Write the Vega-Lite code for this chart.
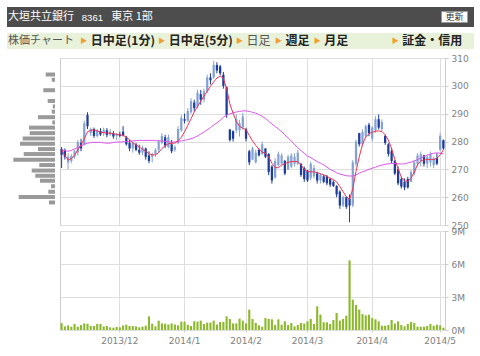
{
  "$schema": "https://vega.github.io/schema/vega-lite/v6.json",
  "background": "white",
  "padding": {"left": 7, "top": 7, "right": 0, "bottom": 0},
  "spacing": 4,
  "config": {
    "font": "DejaVu Sans",
    "view": {"stroke": "#cccccc"},
    "axis": {"labelFont": "DejaVu Sans", "labelFontSize": 9, "labelColor": "#808080", "gridColor": "#dedede", "domainColor": "#cccccc", "tickColor": "#cccccc", "title": null, "labelOverlap": false},
    "text": {"font": "Noto Sans CJK JP"}
  },
  "datasets": {
    "header": [
      {"item": "大垣共立銀行", "kind": "name"},
      {"item": "8361", "kind": "code"},
      {"item": "東京 1部", "kind": "market"},
      {"item": "更新", "kind": "button"}
    ],
    "tabs": [
      {"tab": "株価チャート", "kind": "title"},
      {"tab": "日中足(1分)", "kind": "link"},
      {"tab": "日中足(5分)", "kind": "link"},
      {"tab": "日足", "kind": "current"},
      {"tab": "週足", "kind": "link"},
      {"tab": "月足", "kind": "link"},
      {"tab": "証金・信用", "kind": "link"}
    ],
    "profile": [
      {"price": 305.6, "volume": 2230000},
      {"price": 303.6, "volume": 790000},
      {"price": 299.6, "volume": 2810000},
      {"price": 295.5, "volume": 1750000},
      {"price": 293.4, "volume": 550000},
      {"price": 291.4, "volume": 790000},
      {"price": 289.3, "volume": 4080000},
      {"price": 287.3, "volume": 650000},
      {"price": 285.3, "volume": 6240000},
      {"price": 283.2, "volume": 6070000},
      {"price": 281.1, "volume": 7750000},
      {"price": 279.1, "volume": 8400000},
      {"price": 277.1, "volume": 4080000},
      {"price": 275.2, "volume": 7510000},
      {"price": 273.0, "volume": 10000000},
      {"price": 271.0, "volume": 3770000},
      {"price": 268.9, "volume": 5590000},
      {"price": 266.9, "volume": 4730000},
      {"price": 265.0, "volume": 3600000},
      {"price": 262.9, "volume": 960000},
      {"price": 260.8, "volume": 1610000},
      {"price": 258.8, "volume": 8710000},
      {"price": 256.7, "volume": 1440000}
    ],
    "ohlc": [
      {"date": "2013-11-06", "open": 277.3, "high": 278, "low": 270.5, "close": 275.2, "volume": 630000, "ma_short": 277.0, "ma_long": 277.0},
      {"date": "2013-11-07", "open": 276.8, "high": 277.5, "low": 273.5, "close": 274.5, "volume": 330000, "ma_short": 275.0, "ma_long": 276.7},
      {"date": "2013-11-08", "open": 272.5, "high": 275.8, "low": 270, "close": 274.5, "volume": 420000, "ma_short": 273.4, "ma_long": 276.5},
      {"date": "2013-11-11", "open": 273, "high": 275.5, "low": 272.2, "close": 274.8, "volume": 300000, "ma_short": 273.8, "ma_long": 276.8},
      {"date": "2013-11-12", "open": 274.5, "high": 277, "low": 273.8, "close": 276.5, "volume": 550000, "ma_short": 275.0, "ma_long": 277.3},
      {"date": "2013-11-13", "open": 276, "high": 280.5, "low": 275, "close": 279.8, "volume": 300000, "ma_short": 277.0, "ma_long": 277.8},
      {"date": "2013-11-14", "open": 279.5, "high": 281, "low": 276.5, "close": 277.5, "volume": 450000, "ma_short": 278.8, "ma_long": 278.4},
      {"date": "2013-11-15", "open": 279, "high": 287.5, "low": 278.5, "close": 286.5, "volume": 600000, "ma_short": 281.0, "ma_long": 279.0},
      {"date": "2013-11-18", "open": 289.5, "high": 290.5, "low": 284.5, "close": 285.5, "volume": 570000, "ma_short": 283.5, "ma_long": 279.4},
      {"date": "2013-11-19", "open": 283, "high": 285, "low": 282, "close": 284.5, "volume": 360000, "ma_short": 284.0, "ma_long": 279.6},
      {"date": "2013-11-20", "open": 284.5, "high": 285, "low": 281.3, "close": 282, "volume": 360000, "ma_short": 284.2, "ma_long": 279.7},
      {"date": "2013-11-21", "open": 282, "high": 284.5, "low": 281.5, "close": 284, "volume": 550000, "ma_short": 283.8, "ma_long": 279.7},
      {"date": "2013-11-22", "open": 283.8, "high": 284.8, "low": 282, "close": 282.5, "volume": 550000, "ma_short": 283.3, "ma_long": 279.7},
      {"date": "2013-11-25", "open": 283, "high": 285, "low": 282, "close": 284.2, "volume": 330000, "ma_short": 283.2, "ma_long": 279.5},
      {"date": "2013-11-26", "open": 284, "high": 284.8, "low": 281.5, "close": 282.3, "volume": 360000, "ma_short": 283.0, "ma_long": 279.4},
      {"date": "2013-11-27", "open": 282.5, "high": 284.5, "low": 282, "close": 283.5, "volume": 240000, "ma_short": 283.0, "ma_long": 279.4},
      {"date": "2013-11-28", "open": 283, "high": 283.8, "low": 281, "close": 281.8, "volume": 210000, "ma_short": 282.8, "ma_long": 279.7},
      {"date": "2013-11-29", "open": 282, "high": 283, "low": 280.5, "close": 282.5, "volume": 270000, "ma_short": 282.6, "ma_long": 279.8},
      {"date": "2013-12-02", "open": 282.5, "high": 283.5, "low": 281.5, "close": 282, "volume": 240000, "ma_short": 282.4, "ma_long": 279.8},
      {"date": "2013-12-03", "open": 283.5, "high": 285.5, "low": 281.8, "close": 282.2, "volume": 420000, "ma_short": 282.2, "ma_long": 279.9},
      {"date": "2013-12-04", "open": 281.5, "high": 282, "low": 278.5, "close": 279, "volume": 480000, "ma_short": 281.6, "ma_long": 280.0},
      {"date": "2013-12-05", "open": 279.5, "high": 280.6, "low": 276.5, "close": 277.5, "volume": 360000, "ma_short": 280.6, "ma_long": 280.1},
      {"date": "2013-12-06", "open": 277.5, "high": 280, "low": 276, "close": 279.5, "volume": 360000, "ma_short": 279.5, "ma_long": 280.2},
      {"date": "2013-12-09", "open": 279, "high": 279.5, "low": 276.5, "close": 277, "volume": 330000, "ma_short": 278.8, "ma_long": 280.3},
      {"date": "2013-12-10", "open": 277, "high": 278.8, "low": 275.2, "close": 276, "volume": 240000, "ma_short": 278.0, "ma_long": 280.4},
      {"date": "2013-12-11", "open": 276, "high": 278.5, "low": 275, "close": 277.8, "volume": 300000, "ma_short": 277.2, "ma_long": 280.4},
      {"date": "2013-12-12", "open": 277.5, "high": 277.8, "low": 273.5, "close": 274.5, "volume": 390000, "ma_short": 276.5, "ma_long": 280.4},
      {"date": "2013-12-13", "open": 275, "high": 276.5, "low": 272.2, "close": 273, "volume": 1240000, "ma_short": 275.6, "ma_long": 280.4},
      {"date": "2013-12-16", "open": 274.5, "high": 276, "low": 272.5, "close": 275.5, "volume": 570000, "ma_short": 275.2, "ma_long": 280.4},
      {"date": "2013-12-17", "open": 275.5, "high": 277.6, "low": 274.5, "close": 277, "volume": 330000, "ma_short": 275.2, "ma_long": 280.3},
      {"date": "2013-12-18", "open": 277, "high": 280.5, "low": 276, "close": 280, "volume": 850000, "ma_short": 276.0, "ma_long": 280.3},
      {"date": "2013-12-19", "open": 279.5, "high": 283, "low": 279, "close": 282, "volume": 600000, "ma_short": 277.5, "ma_long": 280.2},
      {"date": "2013-12-20", "open": 281.5, "high": 282.4, "low": 277.6, "close": 278.5, "volume": 570000, "ma_short": 278.5, "ma_long": 280.0},
      {"date": "2013-12-24", "open": 278, "high": 282.5, "low": 277.5, "close": 281.5, "volume": 500000, "ma_short": 279.2, "ma_long": 279.9},
      {"date": "2013-12-25", "open": 279, "high": 280.6, "low": 275.8, "close": 276.5, "volume": 600000, "ma_short": 279.4, "ma_long": 279.8},
      {"date": "2013-12-26", "open": 277, "high": 278.7, "low": 276.3, "close": 278, "volume": 500000, "ma_short": 279.4, "ma_long": 279.8},
      {"date": "2013-12-27", "open": 279.4, "high": 285.5, "low": 279, "close": 284.5, "volume": 420000, "ma_short": 280.2, "ma_long": 280.0},
      {"date": "2013-12-30", "open": 284, "high": 289.5, "low": 283.5, "close": 288.5, "volume": 760000, "ma_short": 281.5, "ma_long": 280.2},
      {"date": "2014-01-06", "open": 288, "high": 290, "low": 286.5, "close": 287.5, "volume": 760000, "ma_short": 283.5, "ma_long": 280.4},
      {"date": "2014-01-07", "open": 287.5, "high": 292, "low": 287, "close": 291, "volume": 480000, "ma_short": 285.8, "ma_long": 280.7},
      {"date": "2014-01-08", "open": 290.5, "high": 295.6, "low": 290, "close": 294.5, "volume": 360000, "ma_short": 288.2, "ma_long": 281.0},
      {"date": "2014-01-09", "open": 294, "high": 295, "low": 290.8, "close": 292, "volume": 800000, "ma_short": 290.6, "ma_long": 281.4},
      {"date": "2014-01-10", "open": 292.5, "high": 298.6, "low": 292, "close": 297.5, "volume": 760000, "ma_short": 292.6, "ma_long": 282.0},
      {"date": "2014-01-14", "open": 297, "high": 298.5, "low": 293.2, "close": 295, "volume": 850000, "ma_short": 294.5, "ma_long": 282.7},
      {"date": "2014-01-15", "open": 295, "high": 299, "low": 294, "close": 298, "volume": 550000, "ma_short": 296.3, "ma_long": 283.4},
      {"date": "2014-01-16", "open": 298, "high": 304, "low": 297.5, "close": 303, "volume": 670000, "ma_short": 298.0, "ma_long": 284.2},
      {"date": "2014-01-17", "open": 303, "high": 304.5, "low": 300.5, "close": 302, "volume": 670000, "ma_short": 299.8, "ma_long": 285.0},
      {"date": "2014-01-20", "open": 303, "high": 309, "low": 302.5, "close": 307.5, "volume": 850000, "ma_short": 301.4, "ma_long": 285.9},
      {"date": "2014-01-21", "open": 307.5, "high": 308.5, "low": 304.5, "close": 305.5, "volume": 500000, "ma_short": 302.8, "ma_long": 286.7},
      {"date": "2014-01-22", "open": 307, "high": 307.5, "low": 303.8, "close": 304.5, "volume": 730000, "ma_short": 303.5, "ma_long": 287.6},
      {"date": "2014-01-23", "open": 304, "high": 305, "low": 299, "close": 300, "volume": 730000, "ma_short": 302.8, "ma_long": 288.7},
      {"date": "2014-01-24", "open": 299.5, "high": 299.8, "low": 288.5, "close": 289.5, "volume": 1240000, "ma_short": 299.0, "ma_long": 289.5},
      {"date": "2014-01-27", "open": 284.3, "high": 284.5, "low": 280, "close": 280.5, "volume": 1000000, "ma_short": 293.5, "ma_long": 289.9},
      {"date": "2014-01-28", "open": 283.7, "high": 284, "low": 280, "close": 281, "volume": 600000, "ma_short": 290.2, "ma_long": 290.3},
      {"date": "2014-01-29", "open": 284, "high": 289.7, "low": 283.1, "close": 288, "volume": 600000, "ma_short": 287.2, "ma_long": 290.6},
      {"date": "2014-01-30", "open": 284, "high": 287.8, "low": 281.8, "close": 286.5, "volume": 1030000, "ma_short": 285.5, "ma_long": 290.8},
      {"date": "2014-01-31", "open": 285, "high": 290.3, "low": 284.3, "close": 289, "volume": 850000, "ma_short": 284.7, "ma_long": 291.0},
      {"date": "2014-02-03", "open": 284.5, "high": 284.9, "low": 280, "close": 281, "volume": 600000, "ma_short": 284.3, "ma_long": 291.0},
      {"date": "2014-02-04", "open": 276.5, "high": 277, "low": 271.5, "close": 272.5, "volume": 1850000, "ma_short": 282.2, "ma_long": 290.8},
      {"date": "2014-02-05", "open": 273.5, "high": 278.1, "low": 273.3, "close": 277.5, "volume": 1000000, "ma_short": 280.2, "ma_long": 290.5},
      {"date": "2014-02-06", "open": 272.5, "high": 277, "low": 272.1, "close": 276, "volume": 640000, "ma_short": 278.6, "ma_long": 290.2},
      {"date": "2014-02-07", "open": 277, "high": 277.6, "low": 274.6, "close": 275, "volume": 420000, "ma_short": 277.2, "ma_long": 289.7},
      {"date": "2014-02-10", "open": 275.5, "high": 280, "low": 275.2, "close": 279, "volume": 300000, "ma_short": 276.2, "ma_long": 289.0},
      {"date": "2014-02-12", "open": 277.5, "high": 277.6, "low": 274, "close": 274.5, "volume": 1090000, "ma_short": 275.8, "ma_long": 288.3},
      {"date": "2014-02-13", "open": 275.5, "high": 275.8, "low": 267.9, "close": 269, "volume": 1000000, "ma_short": 274.5, "ma_long": 287.3},
      {"date": "2014-02-14", "open": 271, "high": 271.5, "low": 264.9, "close": 266, "volume": 970000, "ma_short": 272.2, "ma_long": 286.3},
      {"date": "2014-02-17", "open": 267, "high": 274, "low": 266.7, "close": 273, "volume": 450000, "ma_short": 270.6, "ma_long": 285.4},
      {"date": "2014-02-18", "open": 271.5, "high": 276.4, "low": 271, "close": 275.5, "volume": 970000, "ma_short": 270.6, "ma_long": 284.5},
      {"date": "2014-02-19", "open": 272, "high": 275.8, "low": 271.5, "close": 275, "volume": 480000, "ma_short": 271.5, "ma_long": 283.5},
      {"date": "2014-02-20", "open": 273, "high": 273.4, "low": 267.9, "close": 268.5, "volume": 790000, "ma_short": 272.0, "ma_long": 282.4},
      {"date": "2014-02-21", "open": 270, "high": 275.2, "low": 269.8, "close": 274.5, "volume": 450000, "ma_short": 272.5, "ma_long": 281.3},
      {"date": "2014-02-24", "open": 271, "high": 275.8, "low": 270.4, "close": 275, "volume": 640000, "ma_short": 272.8, "ma_long": 280.2},
      {"date": "2014-02-25", "open": 272, "high": 275.8, "low": 271, "close": 274.5, "volume": 330000, "ma_short": 272.8, "ma_long": 278.9},
      {"date": "2014-02-26", "open": 272, "high": 277, "low": 271.5, "close": 276, "volume": 450000, "ma_short": 272.8, "ma_long": 277.8},
      {"date": "2014-02-27", "open": 272, "high": 272.2, "low": 267.3, "close": 268, "volume": 640000, "ma_short": 271.6, "ma_long": 276.7},
      {"date": "2014-02-28", "open": 270.5, "high": 271, "low": 265.5, "close": 266.5, "volume": 580000, "ma_short": 270.0, "ma_long": 275.8},
      {"date": "2014-03-03", "open": 269.5, "high": 269.8, "low": 265.5, "close": 266, "volume": 790000, "ma_short": 269.3, "ma_long": 274.8},
      {"date": "2014-03-04", "open": 267, "high": 272.8, "low": 266.1, "close": 272, "volume": 1000000, "ma_short": 269.1, "ma_long": 274.2},
      {"date": "2014-03-05", "open": 267.5, "high": 271.5, "low": 266.7, "close": 270.5, "volume": 550000, "ma_short": 269.1, "ma_long": 273.5},
      {"date": "2014-03-06", "open": 268.5, "high": 269.2, "low": 264.9, "close": 266, "volume": 2150000, "ma_short": 268.8, "ma_long": 272.8},
      {"date": "2014-03-07", "open": 266, "high": 268.6, "low": 264.9, "close": 268, "volume": 1400000, "ma_short": 268.4, "ma_long": 272.2},
      {"date": "2014-03-10", "open": 267.5, "high": 268, "low": 265, "close": 265.5, "volume": 700000, "ma_short": 268.0, "ma_long": 271.6},
      {"date": "2014-03-11", "open": 267.5, "high": 268, "low": 264.3, "close": 265, "volume": 700000, "ma_short": 267.5, "ma_long": 270.8},
      {"date": "2014-03-12", "open": 266.5, "high": 267, "low": 263.7, "close": 264.5, "volume": 550000, "ma_short": 266.8, "ma_long": 270.0},
      {"date": "2014-03-13", "open": 265.5, "high": 266, "low": 263.7, "close": 264, "volume": 910000, "ma_short": 266.3, "ma_long": 269.4},
      {"date": "2014-03-14", "open": 264, "high": 264.3, "low": 260, "close": 261, "volume": 1550000, "ma_short": 265.5, "ma_long": 268.8},
      {"date": "2014-03-17", "open": 262, "high": 262.5, "low": 255.8, "close": 257, "volume": 850000, "ma_short": 263.8, "ma_long": 268.3},
      {"date": "2014-03-18", "open": 257, "high": 260.6, "low": 256.4, "close": 260, "volume": 1000000, "ma_short": 262.0, "ma_long": 268.0},
      {"date": "2014-03-19", "open": 260, "high": 260.2, "low": 255.8, "close": 256.5, "volume": 1300000, "ma_short": 260.2, "ma_long": 267.7},
      {"date": "2014-03-20", "open": 259.5, "high": 261, "low": 251, "close": 257, "volume": 6330000, "ma_short": 259.2, "ma_long": 267.6},
      {"date": "2014-03-24", "open": 257, "high": 273.4, "low": 256.4, "close": 272.5, "volume": 2760000, "ma_short": 263.0, "ma_long": 267.6},
      {"date": "2014-03-25", "open": 272, "high": 280.7, "low": 271, "close": 280, "volume": 2270000, "ma_short": 269.3, "ma_long": 268.0},
      {"date": "2014-03-26", "open": 283, "high": 283.1, "low": 278.2, "close": 279, "volume": 1850000, "ma_short": 274.5, "ma_long": 268.6},
      {"date": "2014-03-27", "open": 279, "high": 284.3, "low": 278.2, "close": 283.5, "volume": 1450000, "ma_short": 279.0, "ma_long": 269.1},
      {"date": "2014-03-28", "open": 282, "high": 286.1, "low": 281.3, "close": 285.5, "volume": 1330000, "ma_short": 281.6, "ma_long": 269.5},
      {"date": "2014-03-31", "open": 286, "high": 286.7, "low": 281.9, "close": 283, "volume": 1390000, "ma_short": 282.8, "ma_long": 270.0},
      {"date": "2014-04-01", "open": 281, "high": 285.5, "low": 280, "close": 285, "volume": 1090000, "ma_short": 283.3, "ma_long": 270.4},
      {"date": "2014-04-02", "open": 284, "high": 289.1, "low": 283.1, "close": 288, "volume": 970000, "ma_short": 283.7, "ma_long": 270.8},
      {"date": "2014-04-03", "open": 288, "high": 289.7, "low": 284.3, "close": 285, "volume": 790000, "ma_short": 283.8, "ma_long": 271.2},
      {"date": "2014-04-04", "open": 284.5, "high": 287.9, "low": 283.7, "close": 287, "volume": 390000, "ma_short": 283.6, "ma_long": 271.5},
      {"date": "2014-04-07", "open": 282, "high": 282.5, "low": 278.8, "close": 279.5, "volume": 390000, "ma_short": 282.4, "ma_long": 271.8},
      {"date": "2014-04-08", "open": 279, "high": 279.4, "low": 274.6, "close": 275.5, "volume": 450000, "ma_short": 280.5, "ma_long": 272.0},
      {"date": "2014-04-09", "open": 276.5, "high": 277.6, "low": 272.2, "close": 273, "volume": 910000, "ma_short": 277.5, "ma_long": 272.1},
      {"date": "2014-04-10", "open": 273, "high": 273.4, "low": 267.9, "close": 268.5, "volume": 580000, "ma_short": 273.5, "ma_long": 272.1},
      {"date": "2014-04-11", "open": 270, "high": 271, "low": 264.3, "close": 265, "volume": 790000, "ma_short": 270.3, "ma_long": 272.0},
      {"date": "2014-04-14", "open": 266.5, "high": 267.3, "low": 263.1, "close": 263.8, "volume": 450000, "ma_short": 267.2, "ma_long": 271.9},
      {"date": "2014-04-15", "open": 265.5, "high": 266.7, "low": 262.5, "close": 263.5, "volume": 330000, "ma_short": 265.8, "ma_long": 272.0},
      {"date": "2014-04-16", "open": 266.5, "high": 267.3, "low": 263.1, "close": 263.5, "volume": 550000, "ma_short": 265.7, "ma_long": 272.3},
      {"date": "2014-04-17", "open": 265.5, "high": 269.8, "low": 265.5, "close": 269, "volume": 730000, "ma_short": 266.8, "ma_long": 272.6},
      {"date": "2014-04-18", "open": 268.5, "high": 273.4, "low": 267.9, "close": 272.5, "volume": 640000, "ma_short": 269.0, "ma_long": 273.0},
      {"date": "2014-04-21", "open": 272, "high": 275.8, "low": 271, "close": 275, "volume": 300000, "ma_short": 271.6, "ma_long": 273.5},
      {"date": "2014-04-22", "open": 273, "high": 276.4, "low": 271, "close": 275.5, "volume": 300000, "ma_short": 273.0, "ma_long": 274.0},
      {"date": "2014-04-23", "open": 275, "high": 275.2, "low": 271, "close": 272, "volume": 300000, "ma_short": 273.4, "ma_long": 274.6},
      {"date": "2014-04-24", "open": 272, "high": 275.2, "low": 270.4, "close": 274.5, "volume": 360000, "ma_short": 273.5, "ma_long": 275.1},
      {"date": "2014-04-25", "open": 272.5, "high": 276.4, "low": 271, "close": 275.5, "volume": 550000, "ma_short": 273.6, "ma_long": 275.5},
      {"date": "2014-04-28", "open": 271.5, "high": 274.6, "low": 270.4, "close": 274, "volume": 390000, "ma_short": 273.5, "ma_long": 275.8},
      {"date": "2014-04-30", "open": 274, "high": 275.8, "low": 271.5, "close": 272, "volume": 480000, "ma_short": 274.0, "ma_long": 275.9},
      {"date": "2014-05-01", "open": 277, "high": 283.1, "low": 276.5, "close": 282, "volume": 420000, "ma_short": 275.2, "ma_long": 275.8},
      {"date": "2014-05-02", "open": 280.5, "high": 280.7, "low": 277, "close": 277.5, "volume": 210000, "ma_short": 277.0, "ma_long": 275.6}
    ]
  },
  "vconcat": [
    {
      "spacing": 6,
      "vconcat": [
        {
          "width": 467,
          "height": 20,
          "view": {"fill": "#4d4d4d", "stroke": null},
          "data": {"name": "header"},
          "encoding": {
            "x": {"field": "kind", "type": "nominal", "axis": null,
              "scale": {"type": "point", "padding": 0, "domain": ["name", "h1", "h2", "h3", "code", "market", "h4", "h5", "h6", "h7", "h8", "h9", "h10", "h11", "h12", "h13", "h14", "h15", "h16", "h17", "h18", "h19", "h20", "button", "h21"]}}
          },
          "layer": [
            {"transform": [{"filter": "datum.kind == 'name'"}], "mark": {"type": "text", "align": "left", "baseline": "middle", "dx": 1, "fontSize": 11, "color": "white"}, "encoding": {"text": {"field": "item"}}},
            {"transform": [{"filter": "datum.kind == 'code'"}], "mark": {"type": "text", "align": "left", "baseline": "middle", "dx": -3, "dy": 1, "fontSize": 9.5, "color": "white", "font": "Liberation Sans"}, "encoding": {"text": {"field": "item"}}},
            {"transform": [{"filter": "datum.kind == 'market'"}], "mark": {"type": "text", "align": "left", "baseline": "middle", "dx": 7, "fontSize": 11, "color": "white"}, "encoding": {"text": {"field": "item"}}},
            {"transform": [{"filter": "datum.kind == 'button'"}], "mark": {"type": "point", "shape": "M-1,-0.42H1V0.42H-1Z", "size": 676, "filled": true, "fill": "#ffffff", "stroke": "#999999", "strokeWidth": 1, "opacity": 1}},
            {"transform": [{"filter": "datum.kind == 'button'"}], "mark": {"type": "text", "align": "center", "baseline": "middle", "fontSize": 9, "color": "#333333"}, "encoding": {"text": {"field": "item"}}}
          ]
        },
        {
          "width": 467,
          "height": 16,
          "view": {"fill": "#e8f1d9", "stroke": null},
          "data": {"name": "tabs"},
          "encoding": {
            "x": {"field": "tab", "type": "nominal", "axis": null,
              "scale": {"type": "point", "padding": 0, "domain": ["株価チャート", "t1", "日中足(1分)", "t2", "日中足(5分)", "t3", "日足", "週足", "月足", "t4", "証金・信用", "t5", "t6"]}}
          },
          "layer": [
            {"transform": [{"filter": "datum.kind == 'title'"}], "mark": {"type": "text", "align": "left", "baseline": "middle", "dx": 1, "fontSize": 11, "color": "#555555"}, "encoding": {"text": {"field": "tab"}}},
            {"transform": [{"filter": "datum.kind != 'title'"}], "mark": {"type": "text", "align": "center", "baseline": "middle", "dx": -1, "fontSize": 7, "color": "#f0a030"}, "encoding": {"text": {"value": "▶"}}},
            {"transform": [{"filter": "datum.kind == 'current'"}], "mark": {"type": "text", "align": "left", "baseline": "middle", "dx": 6, "fontSize": 12, "color": "#555555"}, "encoding": {"text": {"field": "tab"}}},
            {"transform": [{"filter": "datum.kind == 'link'"}], "mark": {"type": "text", "align": "left", "baseline": "middle", "dx": 6, "fontSize": 12, "fontWeight": "bold", "color": "#222222"}, "encoding": {"text": {"field": "tab"}}}
          ]
        }
      ]
    },
    {
      "columns": 2,
      "bounds": "flush",
      "spacing": {"row": 6, "column": 5},
      "concat": [
        {
          "width": 48,
          "height": 167,
          "view": {"stroke": null},
          "data": {"name": "profile"},
          "mark": {"type": "bar", "orient": "horizontal", "size": 4, "color": "#9a9a9a"},
          "encoding": {
            "y": {"field": "price", "type": "quantitative", "axis": null, "scale": {"domain": [250, 310], "nice": false, "zero": false}},
            "x": {"field": "volume", "type": "quantitative", "axis": null, "scale": {"domain": [0, 11520000], "reverse": true, "nice": false}}
          }
        },
        {
          "width": 385,
          "height": 167,
          "view": {"stroke": "#cccccc"},
          "data": {"name": "ohlc"},
          "resolve": {"scale": {"y": "shared"}, "axis": {"y": "independent"}},
          "encoding": {
            "x": {"field": "date", "type": "ordinal", "scale": {"type": "band", "paddingInner": 0, "paddingOuter": 0},
              "axis": {"values": ["2013-12-02", "2014-01-06", "2014-02-03", "2014-03-03", "2014-04-01", "2014-05-01"], "labels": false, "ticks": false, "domain": false, "grid": true, "title": null}}
          },
          "layer": [
            {
              "mark": {"type": "rule", "strokeWidth": 1},
              "encoding": {
                "y": {"field": "low", "type": "quantitative", "scale": {"domain": [250, 310], "nice": false, "zero": false},
                  "axis": {"orient": "right", "values": [250, 260, 270, 280, 290, 300, 310], "grid": true, "domain": true, "tickSize": 3, "labelPadding": 3, "labelOverlap": false, "title": null}},
                "y2": {"field": "high"},
                "color": {"condition": {"test": "datum.close >= datum.open", "value": "#86a2d4"}, "value": "#1d3c9c"}
              }
            },
            {
              "mark": {"type": "bar", "width": {"band": 0.7}},
              "encoding": {
                "y": {"field": "open", "type": "quantitative", "axis": null},
                "y2": {"field": "close"},
                "color": {"condition": {"test": "datum.close >= datum.open", "value": "#86a2d4"}, "value": "#1d3c9c"}
              }
            },
            {
              "mark": {"type": "line", "color": "#dd55ee", "strokeWidth": 1},
              "encoding": {"y": {"field": "ma_long", "type": "quantitative", "axis": null}}
            },
            {
              "mark": {"type": "line", "color": "#ee3355", "strokeWidth": 1},
              "encoding": {"y": {"field": "ma_short", "type": "quantitative", "axis": null}}
            }
          ]
        },
        {
          "width": 48,
          "height": 99,
          "view": {"stroke": null},
          "data": {"values": [{"blank": ""}]},
          "mark": {"type": "text"},
          "encoding": {"text": {"field": "blank"}}
        },
        {
          "width": 385,
          "height": 99,
          "view": {"stroke": "#cccccc"},
          "data": {"name": "ohlc"},
          "mark": {"type": "bar", "color": "#8cb82b", "width": {"band": 0.65}},
          "encoding": {
            "x": {"field": "date", "type": "ordinal", "scale": {"type": "band", "paddingInner": 0, "paddingOuter": 0},
              "axis": {"values": ["2013-12-02", "2014-01-06", "2014-02-03", "2014-03-03", "2014-04-01", "2014-05-01"], "labelExpr": "slice(datum.value,0,4)+'/'+toNumber(slice(datum.value,5,7))", "labelAngle": 0, "ticks": true, "tickSize": 2, "domain": false, "grid": true, "labelPadding": 4, "title": null}},
            "y": {"field": "volume", "type": "quantitative", "scale": {"domain": [0, 9000000], "nice": false},
              "axis": {"orient": "right", "values": [0, 3000000, 6000000, 9000000], "labelExpr": "format(datum.value/1000000,'d')+'M'", "grid": true, "domain": true, "tickSize": 3, "labelPadding": 3, "labelOverlap": false, "title": null}}
          }
        }
      ]
    }
  ]
}
